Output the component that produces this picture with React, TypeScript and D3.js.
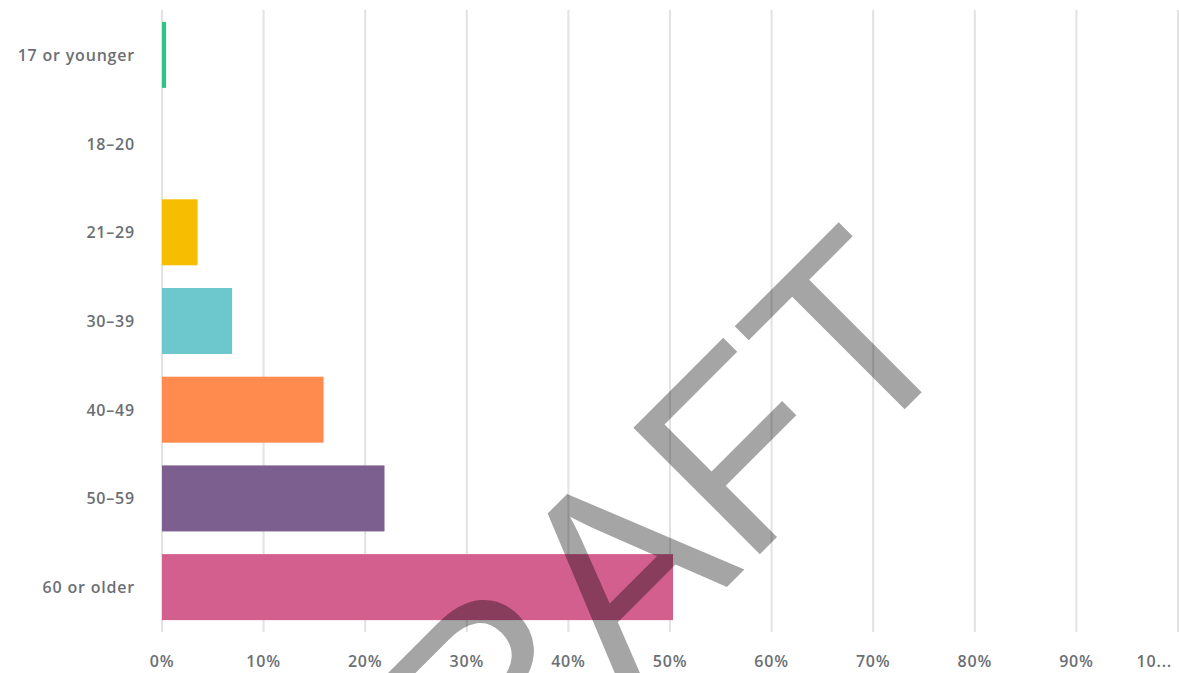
import React from "react";
import * as d3 from "d3";

const categories = ["17 or younger", "18-20", "21-29", "30-39", "40-49", "50-59", "60 or older"];
const values = [0.4, 0, 3.5, 6.9, 15.9, 21.9, 50.3];
const colors = ["#2fc486", "#a1d6e2", "#f7bd00", "#6cc8cc", "#ff8b4f", "#7c5e8f", "#d35f8e"];
const ticks = [0, 10, 20, 30, 40, 50, 60, 70, 80, 90, 100];
const tickLabels = ["0%", "10%", "20%", "30%", "40%", "50%", "60%", "70%", "80%", "90%", "10..."];
const watermark = "DRAFT";

const W = 1179;
const H = 673;

export default function App() {
  const x = d3.scaleLinear().domain([0, 100]).range([162, 1178]);
  const y = d3
    .scaleBand<string>()
    .domain(categories)
    .range([10, 632])
    .paddingInner(0.256)
    .paddingOuter(0.134);
  const font = "'Open Sans', 'Noto Sans', sans-serif";
  return (
    <svg
      width={W}
      height={H}
      style={{ position: "fixed", left: 0, top: 0, background: "#fff" }}
    >
      <g>
        {ticks.map((t) => (
          <line
            key={t}
            x1={x(t)}
            x2={x(t)}
            y1={10}
            y2={632}
            stroke="#e2e2e2"
            strokeWidth={2}
          />
        ))}
      </g>
      <g>
        {categories.map((c, i) => (
          <rect
            key={c}
            x={x(0)}
            y={y(c)}
            width={Math.max(0, x(values[i]) - x(0))}
            height={y.bandwidth()}
            fill={colors[i]}
          />
        ))}
      </g>
      <g fontFamily={font} fontWeight={600} fill="#6b6f74" fontSize={16} letterSpacing={0.8}>
        {categories.map((c) => (
          <text
            key={c}
            x={135}
            y={(y(c) ?? 0) + y.bandwidth() / 2}
            textAnchor="end"
            dominantBaseline="central"
          >
            {c.replace("-", "–")}
          </text>
        ))}
        {ticks.map((t, i) => {
          const last = i === ticks.length - 1;
          return (
            <text
              key={t}
              x={last ? x(t) - 6 : x(t)}
              y={661}
              textAnchor={last ? "end" : "middle"}
              dominantBaseline="central"
            >
              {tickLabels[i]}
            </text>
          );
        })}
      </g>
      <text
        x={663}
        y={651}
        transform="rotate(-45 663 651)"
        textAnchor="middle"
        fontFamily="'Liberation Sans', Arial, sans-serif"
        fontSize={260}
        fill="#000"
        fillOpacity={0.353}
      >
        {watermark}
      </text>
    </svg>
  );
}
